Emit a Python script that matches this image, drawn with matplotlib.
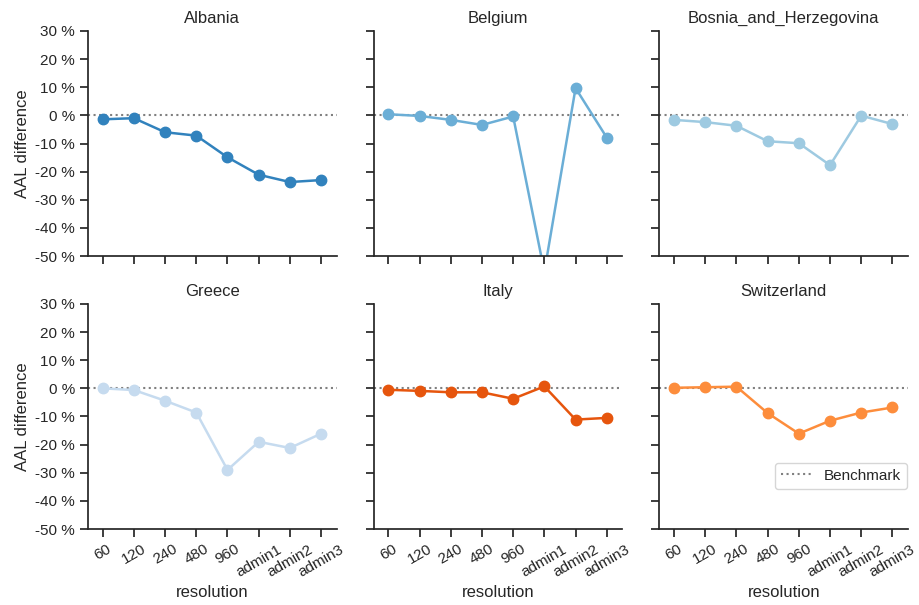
import numpy as np
import matplotlib.pyplot as plt
import seaborn as sns
from matplotlib.ticker import FuncFormatter

sns.set_theme(context="notebook", style="ticks")
plt.rcParams["font.family"] = ["Liberation Sans", "DejaVu Sans"]

resolutions = ["60", "120", "240", "480", "960", "admin1", "admin2", "admin3"]
countries = ["Albania", "Belgium", "Bosnia_and_Herzegovina",
             "Greece", "Italy", "Switzerland"]

# AAL difference to benchmark, in percent
albania = [-1.4, -1.0, -6.0, -7.2, -14.9, -21.1, -23.7, -23.0]
belgium = [0.4, -0.2, -1.6, -3.4, -0.4, -55.6, 9.7, -7.9]
bosnia = [-1.6, -2.4, -3.7, -9.2, -9.9, -17.7, -0.1, -3.1]
greece = [0.0, -0.6, -4.4, -8.6, -29.0, -19.0, -21.2, -16.1]
italy = [-0.5, -0.9, -1.4, -1.4, -3.7, 0.7, -11.1, -10.5]
switzerland = [0.2, 0.4, 0.6, -8.8, -16.1, -11.5, -8.6, -6.8]

values = [albania, belgium, bosnia, greece, italy, switzerland]
line_colors = plt.get_cmap("tab20c").colors[:6]

fig, axes = plt.subplots(2, 3, figsize=(9.2, 6.05), dpi=100,
                         sharex=True, sharey=True)
fig.subplots_adjust(left=0.0957, right=0.987, top=0.9488, bottom=0.1256,
                    wspace=0.149, hspace=0.213)

x = np.arange(len(resolutions))
for ax, name, vals, c in zip(axes.flat, countries, values, line_colors):
    ax.axhline(0, color="gray", linestyle=":", linewidth=1.5, label="Benchmark")
    ax.plot(x, vals, marker="o", color=c, linewidth=1.8, markersize=7.5)
    ax.set_title(name, fontsize=12)
    ax.set_ylim(-50, 30)
    ax.set_yticks(np.arange(-50, 31, 10))
    ax.set_xlim(-0.47, 7.5)
    ax.set_xticks(x)
    ax.tick_params(width=1.25, length=6, labelsize=11)
    for s in ["left", "bottom"]:
        ax.spines[s].set_linewidth(1.25)
    sns.despine(ax=ax)

axes[1, 0].set_xticklabels(resolutions)
for ax in axes[1]:
    plt.setp(ax.get_xticklabels(), rotation=30, ha="center")
    ax.set_xlabel("resolution", fontsize=12)
for ax in axes[:, 0]:
    ax.yaxis.set_major_formatter(FuncFormatter(lambda v, p: "%d %%" % v))
    ax.set_ylabel("AAL difference", fontsize=12)

axes[1, 2].legend(loc="lower right", bbox_to_anchor=(0.995, 0.178),
                  borderaxespad=0, fontsize=11)

fig.savefig("out.png", dpi=100)
